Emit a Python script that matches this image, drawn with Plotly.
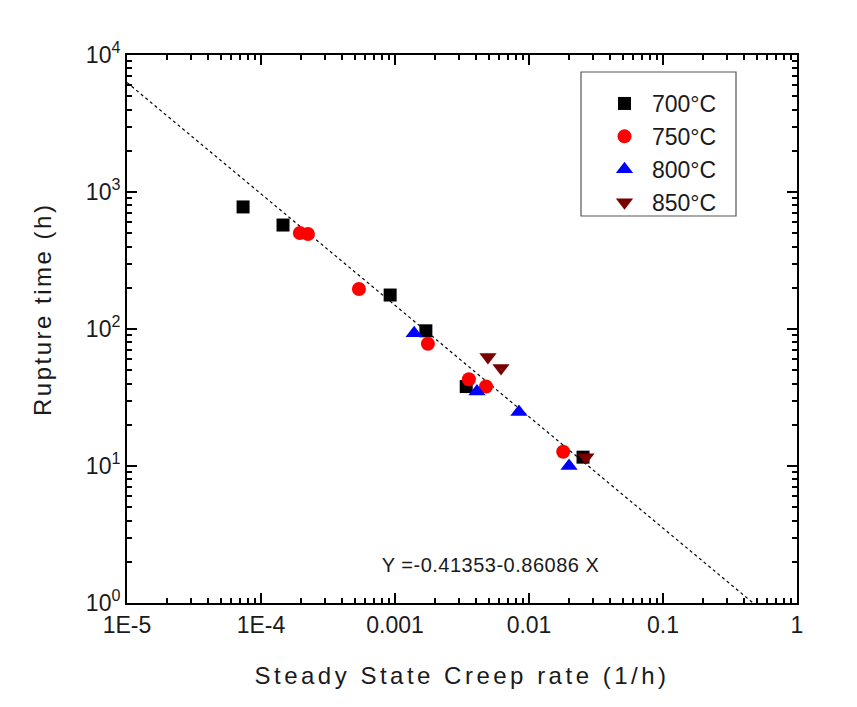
import plotly.graph_objects as go

# ---- data ----
rate_700 = [7.35e-5, 1.46e-4, 9.2e-4, 1.70e-3, 3.4e-3, 0.0253]
time_700 = [778, 574, 177, 97, 38, 11.6]

rate_750 = [1.95e-4, 2.24e-4, 5.38e-4, 1.76e-3, 3.56e-3, 4.78e-3, 0.0180]
time_750 = [502, 494, 196, 78, 43, 38, 12.7]

rate_800 = [1.39e-3, 4.09e-3, 8.41e-3, 0.0199]
time_800 = [93, 35, 24.8, 10]

rate_850 = [4.94e-3, 6.18e-3, 0.0266]
time_850 = [62.5, 52, 11.6]

fit_rate = [1e-5, 0.47]
fit_time = [6300, 1]

x_tickvals = [1e-5, 1e-4, 1e-3, 1e-2, 1e-1, 1]
x_ticktext = ["1E-5", "1E-4", "0.001", "0.01", "0.1", "1"]
y_tickvals = [1, 10, 100, 1000, 10000]
y_ticktext = ["10<sup>0</sup>", "10<sup>1</sup>", "10<sup>2</sup>", "10<sup>3</sup>", "10<sup>4</sup>"]

FONT = "Liberation Sans, Arial, sans-serif"
TXT = "#1a1a1a"

fig = go.Figure()
fig.add_trace(go.Scatter(x=fit_rate, y=fit_time, mode="lines",
                         line=dict(color="black", width=1.2, dash="dot"),
                         showlegend=False, hoverinfo="skip"))

series = [
    ("700°C", rate_700, time_700, "square", "#000000", 13),
    ("750°C", rate_750, time_750, "circle", "#ff0000", 14),
    ("800°C", rate_800, time_800, "triangle-up", "#0000ff", 15),
    ("850°C", rate_850, time_850, "triangle-down", "#7a0000", 15),
]
for name, xs, ys, sym, col, sz in series:
    fig.add_trace(go.Scatter(x=xs, y=ys, mode="markers", name=name, legendgroup=name,
                             marker=dict(symbol=sym, color=col, size=sz, line=dict(width=0))))

axis_common = dict(
    type="log", showgrid=False, zeroline=False,
    showline=True, linecolor="black", linewidth=2, mirror="ticks",
    ticks="inside", ticklen=10, tickwidth=2, tickcolor="black",
    tickfont=dict(family=FONT, size=23, color=TXT),
    minor=dict(ticks="inside", ticklen=5, tickwidth=1.5, tickcolor="black", dtick="D1", showgrid=False),
)

fig.update_xaxes(**axis_common, range=[-5, 0], tickmode="array",
                 tickvals=x_tickvals, ticktext=x_ticktext,
                 title=dict(text="Steady State Creep rate (1/h)",
                            font=dict(family=FONT, size=24, color=TXT), standoff=31))
fig.update_yaxes(**axis_common, range=[0, 4], tickmode="array",
                 tickvals=y_tickvals, ticktext=y_ticktext)

# y-axis title (placed as a rotated annotation to match its off-centre position)
fig.add_annotation(x=(42 - 127) / 670, y=(603 - 310) / 548, xref="paper", yref="paper",
                   xanchor="center", yanchor="middle", textangle=-90,
                   text="Rupture time (h)", showarrow=False,
                   font=dict(family=FONT, size=24, color=TXT))

fig.add_annotation(x=0.542, y=(603 - 565) / 548, xref="paper", yref="paper",
                   xanchor="center", yanchor="middle",
                   text="Y =-0.41353-0.86086 X", showarrow=False,
                   font=dict(family=FONT, size=20, color=TXT))

# legend frame
fig.add_shape(type="rect", xref="paper", yref="paper",
              x0=(581 - 127) / 670, x1=(736 - 127) / 670,
              y0=(603 - 216) / 548, y1=(603 - 72) / 548,
              line=dict(color="#555", width=1.2), fillcolor="rgba(0,0,0,0)", layer="below")

fig.update_layout(
    width=857, height=707,
    margin=dict(l=119, r=68, t=47, b=112),
    plot_bgcolor="white", paper_bgcolor="white",
    legend=dict(x=(597 - 127) / 670, y=(603 - 82) / 548, xanchor="left", yanchor="top",
                borderwidth=0, bgcolor="rgba(0,0,0,0)",
                font=dict(family=FONT, size=23, color=TXT),
                itemwidth=45, tracegroupgap=0),
    showlegend=True,
)

post = """
var gd = document.getElementById('{plot_id}');
function ls(){
  gd.querySelectorAll('.xtitle').forEach(function(e){e.style.letterSpacing='3.5px';});
  gd.querySelectorAll('.annotation-text').forEach(function(e){
    if (e.textContent.indexOf('Rupture') >= 0) { e.style.letterSpacing='2.5px'; }
    else { e.style.letterSpacing='0.5px'; }
  });
}
ls();
"""
fig.write_html("out.html", post_script=post)
